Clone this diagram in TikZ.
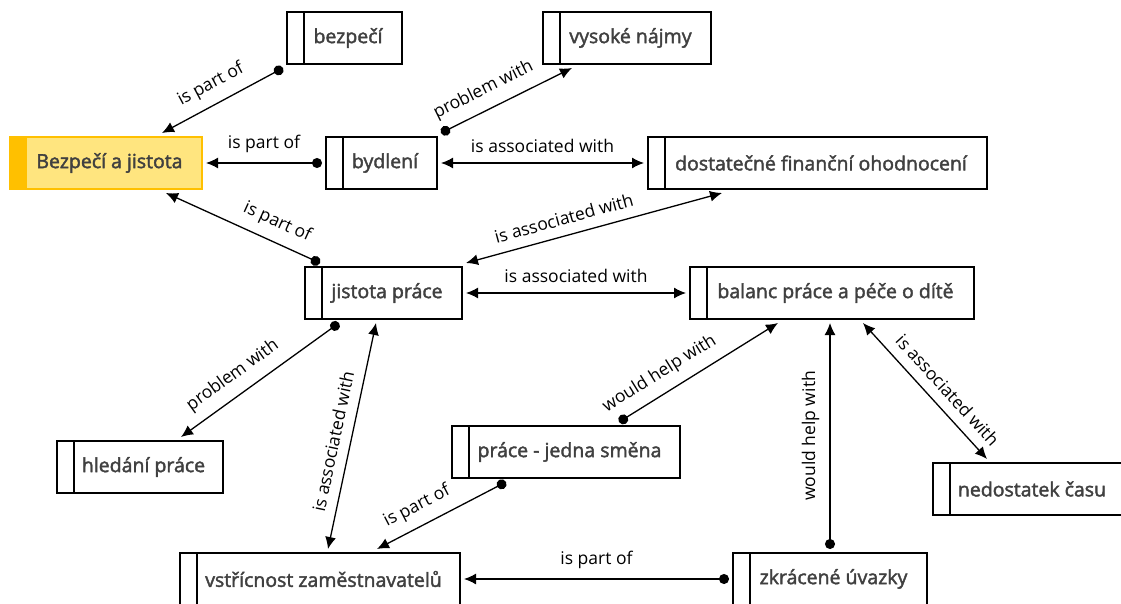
\documentclass[tikz,border=0pt]{standalone}
\usepackage{fontspec}
\setmainfont{Open Sans}
\newfontfamily\conceptfont{Open Sans}[FakeBold=2]
\usepackage{tikz}
\usetikzlibrary{arrows.meta}
\definecolor{textgrey}{HTML}{404040}
\definecolor{goldbar}{HTML}{FFC000}
\definecolor{goldfill}{HTML}{FFE57F}

\begin{document}
\begin{tikzpicture}[x=1pt,y=-1pt,
    concept/.style={draw, line width=1.3pt, rectangle, minimum height=52pt, inner sep=0pt,
      outer sep=4pt, text=textgrey, font=\conceptfont\fontsize{19.5}{23}\selectfont,
      execute at begin node={\hspace*{7pt}},
      path picture={\draw[line width=1.3pt] ([xshift=17pt]path picture bounding box.north west)
        -- ([xshift=17pt]path picture bounding box.south west);}},
    topic/.style={concept, fill=goldfill, draw=goldbar,
      path picture={\fill[goldbar] (path picture bounding box.north west)
        rectangle ([xshift=17pt]path picture bounding box.south west);}},
    part/.style={line width=1.3pt, {Circle[length=10pt]}-{Latex[length=12pt,width=11pt]}},
    assoc/.style={line width=1.3pt, {Latex[length=12pt,width=11pt]}-{Latex[length=12pt,width=11pt]}},
    lbl/.style={font=\fontsize{17.5}{20}\selectfont, sloped, above=7pt, inner sep=3pt}]
		\useasboundingbox (0,0) rectangle (1121,604);
		% concepts
		\node[topic, minimum width=192pt] (bj) at (106,163) {Bezpečí a jistota};
		\node[concept, minimum width=115pt] (bezp) at (344.5,38) {bezpečí};
		\node[concept, minimum width=168pt] (vys) at (627,38) {vysoké nájmy};
		\node[concept, minimum width=111pt] (bydl) at (381.5,163) {bydlení};
		\node[concept, minimum width=339pt] (dost) at (817.5,163) {dostatečné finanční ohodnocení};
		\node[concept, minimum width=157pt] (jist) at (383.5,293) {jistota práce};
		\node[concept, minimum width=284pt] (bal) at (832,293) {balanc práce a péče o dítě};
		\node[concept, minimum width=166pt] (hled) at (140,467) {hledání práce};
		\node[concept, minimum width=228pt] (prac) at (566,452) {práce - jedna směna};
		\node[concept, minimum width=191pt] (ned) at (1028.5,489) {nedostatek času};
		\node[concept, minimum width=280pt] (vstr) at (320,579) {vstřícnost zaměstnavatelů};
		\node[concept, minimum width=194pt] (zkr) at (830,579) {zkrácené úvazky};
		% relations
		\draw[part] (bezp.south west) -- node[lbl,pos=.52] {is part of} ([xshift=-44pt]bj.north east);
		\draw[part] (bydl.west) -- node[lbl] {is part of} (bj.east);
		\draw[part] (bydl.north east) -- node[lbl,pos=.39] {problem with} ([xshift=33pt]vys.south west);
		\draw[assoc] (bydl.east) -- node[lbl] {is associated with} (dost.west);
		\draw[part] ([xshift=19pt]jist.north west) -- node[lbl,pos=.33] {is part of} ([xshift=-40pt]bj.south east);
		\draw[assoc] ([xshift=78pt]dost.south west) -- node[lbl,pos=.6] {is associated with} (jist.north east);
		\draw[assoc] (jist.east) -- node[lbl] {is associated with} (bal.west);
		\draw[part] ([xshift=38pt]jist.south west) -- node[lbl,pos=.6] {problem with} ([xshift=128pt]hled.north west);
		\draw[assoc] ([xshift=75pt]jist.south west) -- node[lbl,pos=.54] {is associated with} ([xshift=152pt]vstr.north west);
		\draw[part] ([xshift=171pt]prac.north west) -- node[lbl,pos=.32] {would help with} ([xshift=92pt]bal.south west);
		\draw[part] ([xshift=58pt]prac.south west) -- node[lbl,pos=.62] {is part of} ([xshift=201pt]vstr.north west);
		\draw[part] (zkr.west) -- node[lbl] {is part of} (vstr.east);
		\draw[part] ([xshift=101pt]zkr.north west) -- node[lbl] {would help with} ([xshift=144pt]bal.south west);
		\draw[assoc] ([xshift=177pt]bal.south west) -- node[lbl,pos=.58] {is associated with} ([xshift=58pt]ned.north west);
	\end{tikzpicture}
\end{document}
